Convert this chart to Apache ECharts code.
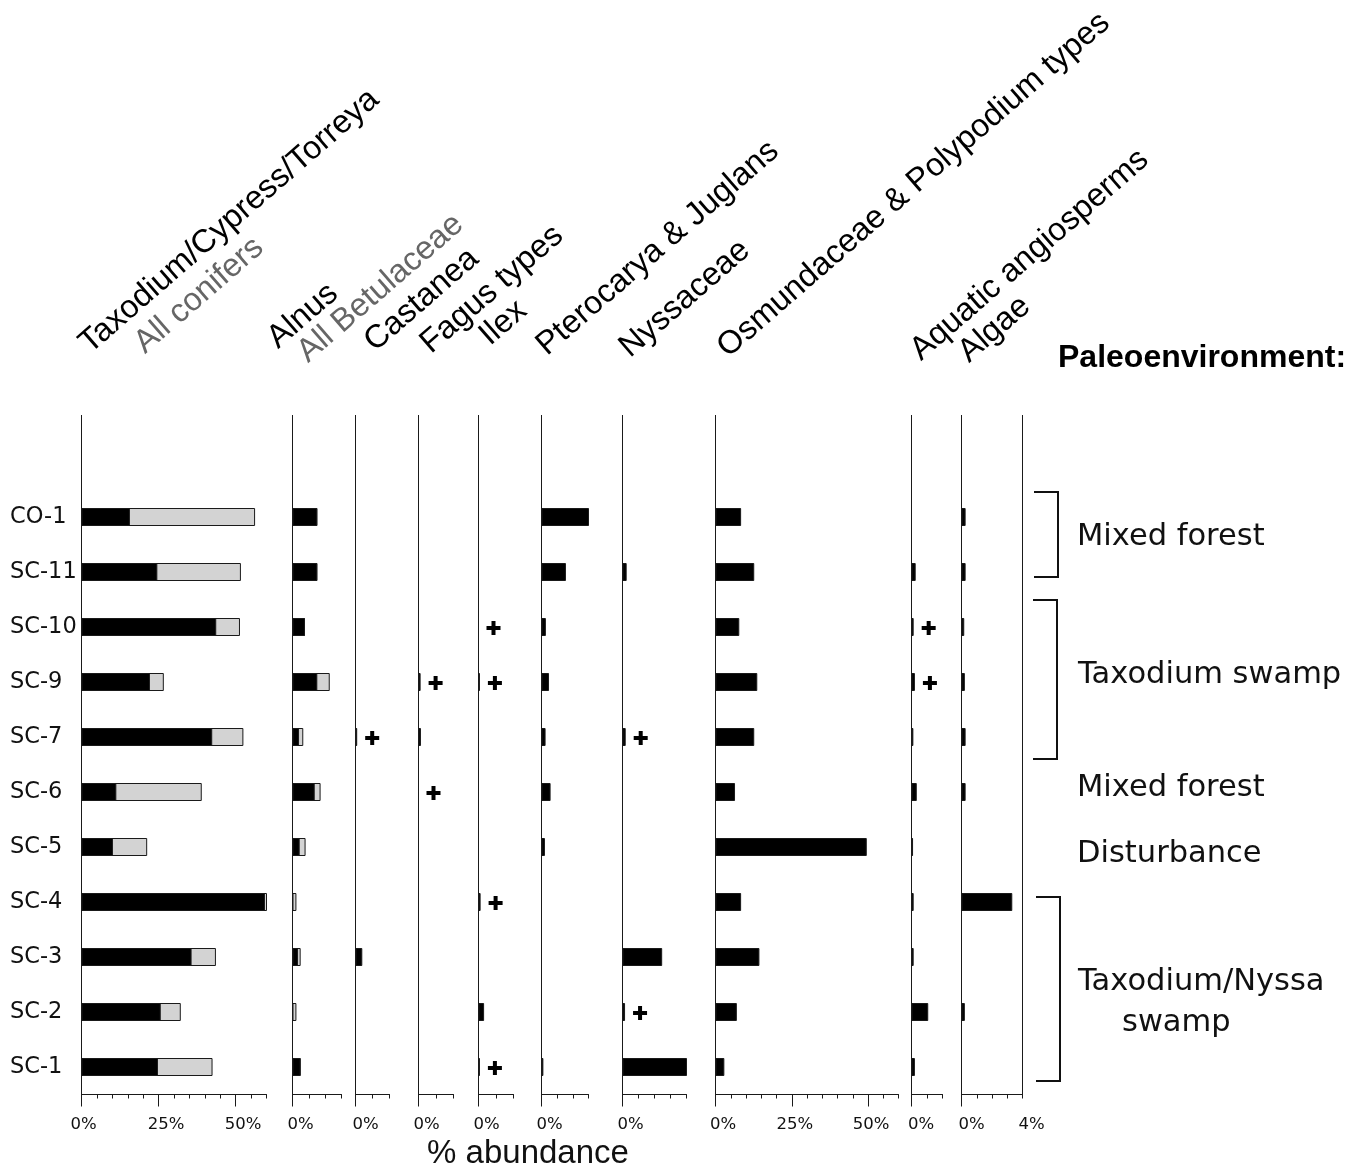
<!DOCTYPE html>
<html><head><meta charset="utf-8">
<script src="https://cdn.jsdelivr.net/npm/echarts@6/dist/echarts.min.js"></script>
<style>html,body{margin:0;padding:0;background:#fff}#c{width:1349px;height:1167px}</style>
</head><body><div id="c"></div>
<script>
// ---------------- data ----------------
const samples = ['CO-1','SC-11','SC-10','SC-9','SC-7','SC-6','SC-5','SC-4','SC-3','SC-2','SC-1'];
const taxodium      = [15.7, 24.6, 43.7, 22.2, 42.4, 11.3, 10.2, 59.5, 35.7, 25.7, 24.8];
const allConifers   = [56.3, 51.7, 51.4, 26.7, 52.5, 39.0, 21.3, 60.8, 43.6, 32.2, 42.5];
const alnus         = [7.6, 7.6, 3.8, 7.6, 2.0, 6.8, 2.2, 0, 1.7, 0, 2.5];
const allBetulaceae = [7.6, 7.6, 3.8, 11.4, 3.3, 8.6, 4.0, 1.2, 2.5, 1.2, 2.5];
const castanea      = [0, 0, 0, 0, 0.5, 0, 0, 0, 2.0, 0, 0];
const fagus         = [0, 0, 0, 0.6, 0.7, 0, 0, 0, 0, 0, 0];
const ilex          = [0, 0, 0, 0.4, 0, 0, 0, 0.6, 0, 1.6, 0.4];
const pterocarya    = [15.5, 7.8, 1.4, 2.4, 1.3, 2.9, 1.1, 0, 0, 0, 0.6];
const nyssaceae     = [0, 1.3, 0, 0, 1.0, 0, 0, 0, 12.4, 0.8, 21.6];
const osmunda       = [8.4, 12.7, 7.8, 13.7, 12.7, 6.4, 49.6, 8.4, 14.4, 7.0, 2.9];
const aquatic       = [0, 1.35, 0.7, 1.1, 0.6, 1.7, 0.5, 0.7, 0.7, 5.4, 1.1];
const algae         = [0.27, 0.27, 0.18, 0.22, 0.27, 0.27, 0, 3.33, 0, 0.22, 0];
// samples marked with "+" (trace presence)
const castaneaTrace = ['SC-7'];
const fagusTrace    = ['SC-9', 'SC-6'];
const ilexTrace     = ['SC-10', 'SC-9', 'SC-4', 'SC-1'];
const nyssaTrace    = ['SC-7', 'SC-2'];
const aquaticTrace  = ['SC-10', 'SC-9'];
// tick labels
const bigTicks = [0, 25, 50];
const algaeTicks = [0, 4];
const headers = ['Taxodium/Cypress/Torreya', 'All conifers', 'Alnus', 'All Betulaceae', 'Castanea',
  'Fagus types', 'Ilex', 'Pterocarya & Juglans', 'Nyssaceae', 'Osmundaceae & Polypodium types',
  'Aquatic angiosperms', 'Algae'];
const envLabels = ['Mixed forest', 'Taxodium swamp', 'Mixed forest', 'Disturbance', 'Taxodium/Nyssa', 'swamp'];

// ---------------- layout ----------------
const panels = [
  {left:81.5,  width:185, max:60, tick:5, majors:bigTicks, labels:bigTicks, z0:4,  zn:15, layers:[[allConifers,'#d3d3d3'],[taxodium,'#000']]},
  {left:292.5, width:49,  max:15, tick:5, majors:[0], labels:[0], z0:16, zn:16, layers:[[allBetulaceae,'#d3d3d3'],[alnus,'#000']]},
  {left:355.5, width:34,  max:10, tick:5, majors:[0], labels:[0], z0:20, zn:16, layers:[[castanea,'#000']], trace:castaneaTrace},
  {left:418.5, width:35,  max:10, tick:5, majors:[0], labels:[0], z0:16, zn:16, layers:[[fagus,'#000']], trace:fagusTrace},
  {left:478.5, width:35,  max:10, tick:5, majors:[0], labels:[0], z0:16, zn:16, layers:[[ilex,'#000']], trace:ilexTrace},
  {left:541.5, width:47,  max:15, tick:5, majors:[0], labels:[0], z0:16, zn:16, layers:[[pterocarya,'#000']]},
  {left:622.5, width:64,  max:20, tick:5, majors:[0], labels:[0], z0:16, zn:16, layers:[[nyssaceae,'#000']], trace:nyssaTrace},
  {left:715.5, width:183, max:60, tick:5, majors:bigTicks, labels:bigTicks, z0:15, zn:6, layers:[[osmunda,'#000']]},
  {left:911.5, width:31,  max:10, tick:5, majors:[0], labels:[0], z0:19, zn:16, layers:[[aquatic,'#000']], trace:aquaticTrace},
  {left:961.5, width:61,  max:4,  tick:1, majors:[0], labels:algaeTicks, z0:20, zn:18, layers:[[algae,'#000']]}
];
const GRID_TOP = 489.5, GRID_H = 605;
const LINE_EXT = 149; // vertical lines reach up to y≈415
const AX = '#1a1a1a';
const plusPath = 'path://M5,0H9V5H14V9H9V14H5V9H0V5H5Z';
const TICK_FONT = {fontFamily:'DejaVu Sans', fontSize:16.5, color:'#111'};

const grid = [], xAxis = [], yAxis = [], series = [];
panels.forEach((p, i) => {
  grid.push({left: p.left, top: GRID_TOP, width: p.width, height: GRID_H});
  // short ticks + axis line
  xAxis.push({gridIndex:i, type:'value', min:0, max:p.max, interval:p.tick, position:'bottom',
    axisLine:{show:true, onZero:false, lineStyle:{color:AX, width:1}},
    axisTick:{show:true, length:4, lineStyle:{color:AX, width:1}},
    axisLabel:{show:false}, splitLine:{show:false}});
  // long ticks + labels
  xAxis.push({gridIndex:i, type:'value', min:0, max:p.max, interval:p.tick, position:'bottom',
    axisLine:{show:false, onZero:false},
    axisTick:{show:true, length:12, customValues:p.majors, lineStyle:{color:AX, width:1}},
    axisLabel:Object.assign({show:true, customValues:p.labels, margin:22,
      formatter: v => (v === 0 ? '{z|' : '{n|') + v + '%}',
      rich:{z:Object.assign({padding:[0,0,0,p.z0]}, TICK_FONT),
            n:Object.assign({padding:[0,0,0,p.zn]}, TICK_FONT)}}, TICK_FONT),
    splitLine:{show:false}});
  yAxis.push({gridIndex:i, type:'category', data:samples, inverse:true,
    axisLine:{show:true, onZero:false, lineStyle:{color:AX, width:1},
      symbol:['none','rect'], symbolSize:[1, LINE_EXT]},
    axisTick:{show:false}, splitLine:{show:false},
    axisLabel: i === 0 ? {show:true, align:'left', margin:71.5, fontFamily:'DejaVu Sans',
      fontSize:22.5, color:'#111'} : {show:false}});
  p.layers.forEach(([vals, color]) => {
    series.push({type:'bar', xAxisIndex:2*i, yAxisIndex:i, barWidth:18, barGap:'-100%',
      data: vals.map(v => v > 0 ? v : '-'),
      itemStyle:{color, borderColor:'#1a1a1a', borderWidth:1}, silent:true});
  });
  if (p.trace) {
    const base = p.layers[p.layers.length - 1][0];
    series.push({type:'scatter', xAxisIndex:2*i, yAxisIndex:i, symbol:plusPath, symbolSize:14,
      symbolOffset:[15, 1], itemStyle:{color:'#000', opacity:1}, silent:true,
      data: p.trace.map(s => [base[samples.indexOf(s)] || 0, s])});
  }
});
// right border of the algae panel
yAxis.push({gridIndex:9, type:'category', data:samples, inverse:true, position:'right',
  axisLine:{show:true, onZero:false, lineStyle:{color:AX, width:1}, symbol:['none','rect'], symbolSize:[1, LINE_EXT]},
  axisTick:{show:false}, axisLabel:{show:false}, splitLine:{show:false}});

// ---------------- annotations ----------------
const rot = 41 * Math.PI / 180;
const headPos = [[95,360,'#000'],[150,360,'#666'],[283,355,'#000'],[313,369,'#666'],[380,358,'#000'],
  [436,360,'#000'],[495,352,'#000'],[552,362,'#000'],[635,364,'#000'],[733,364,'#000'],[926,367,'#000'],[974,369,'#000']];
const graphic = [];
headers.forEach((t, k) => {
  const [x, y, c] = headPos[k];
  graphic.push({type:'text', x, y, rotation:rot, silent:true,
    style:{text:t, fill:c, font:'32.5px "Liberation Sans", Arial, sans-serif',
      textAlign:'left', align:'left', textVerticalAlign:'bottom', verticalAlign:'bottom'}});
});
graphic.push({type:'text', x:1058, y:358, silent:true,
  style:{text:'Paleoenvironment:', fill:'#000', font:'bold 32px "Liberation Sans", Arial, sans-serif',
    textAlign:'left', align:'left', textVerticalAlign:'middle', verticalAlign:'middle'}});
const envPos = [[1077,537],[1078,675],[1077,788],[1077,854],[1078,982],[1122,1023]];
envLabels.forEach((t, k) => {
  graphic.push({type:'text', x:envPos[k][0], y:envPos[k][1], silent:true,
    style:{text:t, fill:'#111', font:'30.5px "DejaVu Sans", sans-serif',
      textAlign:'left', align:'left', textVerticalAlign:'middle', verticalAlign:'middle'}});
});
[[1034,1058,492,577],[1033,1057,600,759],[1036,1060,897,1081]].forEach(([x0,x1,y0,y1]) => {
  graphic.push({type:'polyline', silent:true, shape:{points:[[x0,y0],[x1,y0],[x1,y1],[x0,y1]]},
    style:{stroke:'#111', lineWidth:2, fill:null}});
});
graphic.push({type:'text', x:528, y:1154, silent:true,
  style:{text:'% abundance', fill:'#111', font:'33px "Liberation Sans", Arial, sans-serif',
    textAlign:'center', align:'center', textVerticalAlign:'middle', verticalAlign:'middle'}});

const chart = echarts.init(document.getElementById('c'), null, {renderer:'canvas'});
chart.setOption({backgroundColor:'#fff', animation:false, grid, xAxis, yAxis, series, graphic});
</script></body></html>
